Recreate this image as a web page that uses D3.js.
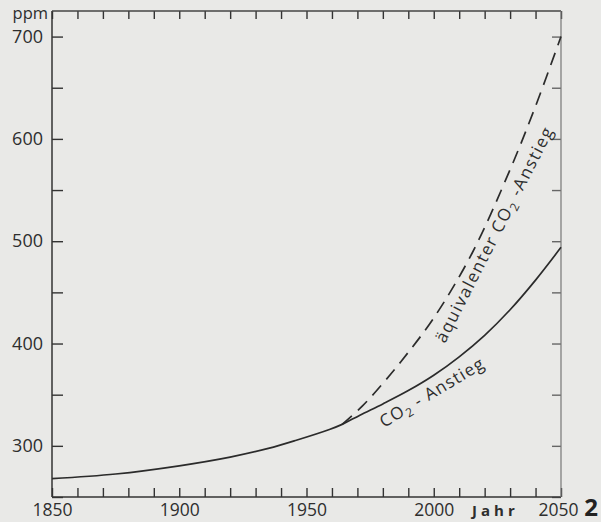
<!DOCTYPE html>
<html lang="de">
<head>
<meta charset="UTF-8">
<title>CO2-Anstieg</title>
<script src="https://d3js.org/d3.v7.min.js"></script>
<style>
    body { margin: 0; background: #e9e9e7; }
    svg { display: block; }
    text { font-family: "Open Sans", sans-serif; fill: #2e2e2e; }
</style>
</head>
<body>
<div id="chart"></div>
<script>
    const width = 601;
    const height = 522;

    // Daten
    const co2Years = [1850, 1875, 1900, 1920, 1935, 1946, 1959, 1964, 1971, 1980, 1990, 2000, 2010, 2020, 2030, 2040, 2050];
    const co2Values = [268, 272.5, 280.5, 289, 297.5, 305.5, 316, 321, 330, 341, 354, 369, 387, 408, 433, 462, 494];
    const aeqYears = [1964, 1972, 1980, 1987, 2000, 2015, 2030, 2040, 2050];
    const aeqValues = [321, 339, 361, 382, 425, 488, 570, 632, 700];
    const yearTicks = d3.range(1850, 2051, 10);
    const yearLabels = [1850, 1900, 1950, 2000, 2050];
    const ppmTicks = d3.range(250, 701, 50);
    const ppmLabels = [300, 400, 500, 600, 700];

    const x = d3.scaleLinear().domain([1850, 2050]).range([52, 561]);
    const y = d3.scaleLinear().domain([250, 725]).range([497, 11]);

    const svg = d3.select("#chart").append("svg")
        .attr("width", width)
        .attr("height", height);

    // Achsen (Striche nach innen)
    const bottom = svg.append("g")
        .attr("transform", `translate(0,${y(250)})`)
        .call(d3.axisBottom(x).tickValues(yearTicks).tickSizeInner(-9).tickSizeOuter(0)
            .tickFormat(d => yearLabels.includes(d) ? d : ""));
    bottom.selectAll("text").attr("y", 19).attr("dy", null).style("font-size", "17.5px");
    bottom.selectAll("text").filter(d => d === 2050).attr("x", -3);

    svg.append("g")
        .attr("transform", `translate(0,${y(725)})`)
        .call(d3.axisTop(x).tickValues(yearTicks).tickSizeInner(-8).tickSizeOuter(0).tickFormat(""));

    const left = svg.append("g")
        .attr("transform", `translate(${x(1850)},0)`)
        .call(d3.axisLeft(y).tickValues(ppmTicks).tickSizeInner(-11).tickSizeOuter(0).tickPadding(9)
            .tickFormat(d => ppmLabels.includes(d) ? d : ""));
    left.selectAll("text").style("font-size", "18px");

    const right = svg.append("g")
        .attr("transform", `translate(${x(2050)},0)`)
        .call(d3.axisRight(y).tickValues(ppmTicks).tickSizeInner(-9).tickSizeOuter(0).tickFormat(""));

    svg.selectAll(".domain").remove();
    svg.selectAll(".tick line").attr("stroke", "#333").attr("stroke-width", 1.4);
    right.selectAll(".tick line").attr("stroke", "#666");

    // Rahmen
    const frame = svg.append("g").attr("fill", "none").attr("stroke-width", 1.5);
    frame.append("line").attr("x1", x(1850)).attr("x2", x(1850)).attr("y1", y(725)).attr("y2", y(250)).attr("stroke", "#333");
    frame.append("line").attr("x1", x(1850)).attr("x2", x(2050)).attr("y1", y(250)).attr("y2", y(250)).attr("stroke", "#333");
    frame.append("line").attr("x1", x(1850)).attr("x2", x(2050)).attr("y1", y(725)).attr("y2", y(725)).attr("stroke", "#444");
    frame.append("line").attr("x1", x(2050)).attr("x2", x(2050)).attr("y1", y(725)).attr("y2", y(250)).attr("stroke", "#777").attr("stroke-width", 1.2);

    // Kurven
    const line = d3.line()
        .x(d => x(d[0]))
        .y(d => y(d[1]))
        .curve(d3.curveCatmullRom.alpha(0.5));

    svg.append("path")
        .datum(co2Years.map((yr, i) => [yr, co2Values[i]]))
        .attr("d", line)
        .attr("fill", "none")
        .attr("stroke", "#2b2b2b")
        .attr("stroke-width", 1.7);

    svg.append("path")
        .datum(aeqYears.map((yr, i) => [yr, aeqValues[i]]))
        .attr("d", line)
        .attr("fill", "none")
        .attr("stroke", "#2b2b2b")
        .attr("stroke-width", 1.7)
        .attr("stroke-dasharray", "13,8");

    // Beschriftungen
    svg.append("text").attr("x", 48).attr("y", 19).attr("text-anchor", "end")
        .style("font-size", "16.5px").text("ppm");

    svg.append("text").attr("x", 472).attr("y", 516)
        .style("font-size", "15px").style("font-weight", "bold").style("letter-spacing", "4px")
        .text("Jahr");

    svg.append("text").attr("x", 591).attr("y", 516).attr("text-anchor", "middle")
        .style("font-size", "24px").style("font-weight", "bold").style("fill", "#222")
        .text("2");

    const aeq = svg.append("text")
        .attr("transform", "translate(445,344) rotate(-63)")
        .style("font-size", "17px")
        .style("letter-spacing", "1.5px");
    aeq.append("tspan").text("äquivalenter CO");
    aeq.append("tspan").attr("dy", 4).style("font-size", "12px").text("2");
    aeq.append("tspan").attr("dy", -4).text(" -Anstieg");

    const co2 = svg.append("text")
        .attr("transform", "translate(384,428) rotate(-31)")
        .style("font-size", "17px")
        .style("letter-spacing", "1.2px");
    co2.append("tspan").text("CO");
    co2.append("tspan").attr("dy", 4).style("font-size", "12px").text("2");
    co2.append("tspan").attr("dy", -4).text(" - Anstieg");
</script>
</body>
</html>
